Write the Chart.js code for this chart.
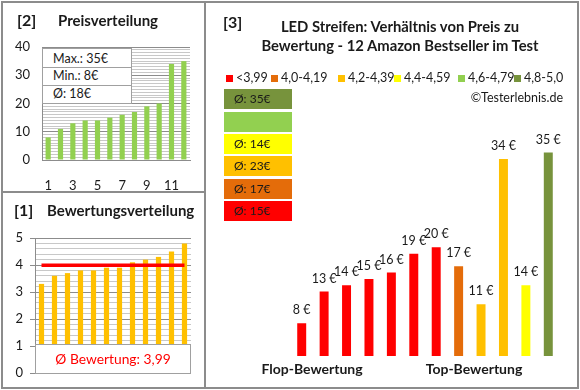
<!DOCTYPE html>
<html>
<head>
<meta charset="utf-8">
<script src="https://cdn.jsdelivr.net/npm/chart.js@4.4.0/dist/chart.umd.min.js"></script>
<style>
  body { margin: 0; width: 580px; height: 390px; background: #fff; position: relative; overflow: hidden;
         font-family: Lato, "Open Sans", sans-serif; color: #1a1a1a; }
  canvas { position: absolute; }
  .line { position: absolute; background: #8c8c8c; }
  .txt { position: absolute; white-space: nowrap; height: 20px; line-height: 20px; }
  .b { font-weight: bold; }
  .box { position: absolute; background: #fff; border: 1px solid #a0a0a0; box-sizing: border-box; }
  .tile { position: absolute; left: 224px; width: 68px; height: 20px; line-height: 20px; font-size: 12px; padding-left: 10px; box-sizing: border-box; }
  .sq { position: absolute; width: 7px; height: 7px; }
</style>
</head>
<body>

<canvas id="preisChart" width="205" height="192" style="left:0;top:0"></canvas>
<canvas id="bewertungChart" width="205" height="196" style="left:0;top:192px"></canvas>
<canvas id="verhaeltnisChart" width="373" height="388" style="left:205px;top:0"></canvas>

<!-- Rahmen -->
<div class="line" style="left:1px;top:1px;width:578px;height:2px"></div>
<div class="line" style="left:1px;top:387px;width:578px;height:2px"></div>
<div class="line" style="left:1px;top:1px;width:2px;height:388px"></div>
<div class="line" style="left:577px;top:1px;width:2px;height:388px"></div>
<div class="line" style="left:204px;top:1px;width:2px;height:388px"></div>
<div class="line" style="left:1px;top:191px;width:205px;height:2px"></div>

<!-- Titel -->
<div class="txt b" style="left:17px;top:10px;font-size:16px">[2]</div>
<div class="txt b" style="left:58px;top:10px;font-size:15px">Preisverteilung</div>
<div class="txt b" style="left:14px;top:200px;font-size:16px">[1]</div>
<div class="txt b" style="left:47px;top:200px;font-size:15px">Bewertungsverteilung</div>
<div class="txt b" style="left:223px;top:12px;font-size:16px">[3]</div>
<div class="txt b" style="left:200px;width:400px;text-align:center;top:16px;font-size:14.8px">LED Streifen: Verhältnis von Preis zu</div>
<div class="txt b" style="left:200px;width:400px;text-align:center;top:35px;font-size:14.8px">Bewertung - 12 Amazon Bestseller im Test</div>
<div class="txt" style="left:400px;width:163px;text-align:right;top:88px;font-size:12.5px">©Testerlebnis.de</div>
<div class="txt b" style="left:212px;width:200px;text-align:center;top:359px;font-size:14px">Flop-Bewertung</div>
<div class="txt b" style="left:374px;width:200px;text-align:center;top:359px;font-size:14px">Top-Bewertung</div>

<!-- Infobox Preis -->
<div class="box" style="left:42px;top:48px;width:90px;height:56px"></div>
<div class="line" style="left:42px;top:67px;width:89px;height:1px;background:#a0a0a0"></div>
<div class="line" style="left:42px;top:85px;width:89px;height:1px;background:#a0a0a0"></div>
<div id="maxTxt" class="txt" style="left:53px;top:49px;font-size:12.5px"></div>
<div id="minTxt" class="txt" style="left:53px;top:66px;font-size:12.5px"></div>
<div id="avgTxt" class="txt" style="left:53px;top:84px;font-size:12.5px"></div>

<!-- Infobox Bewertung -->
<div class="box" style="left:35px;top:344px;width:156px;height:30px"></div>
<div id="ratingTxt" class="txt" style="left:35px;width:156px;text-align:center;top:349px;font-size:13.8px;color:#ff0000"></div>

<div id="legende"></div>
<div id="kacheln"></div>

<script>
// Preise sortiert (Preisverteilung)
const preiseSortiert = [8, 11, 13, 14, 14, 15, 16, 17, 19, 20, 34, 35];
const preisTicks = [0, 10, 20, 30, 40];

// Produkte nach Bewertung sortiert (Flop -> Top)
const bewertungen = [3.3, 3.6, 3.7, 3.8, 3.8, 3.9, 3.9, 4.1, 4.2, 4.3, 4.5, 4.8];
const preise = [8, 13, 14, 15, 16, 19, 20, 17, 11, 34, 14, 35];
const bewertungTicks = [0, 1, 2, 3, 4, 5];

const produktNr = ['1', '2', '3', '4', '5', '6', '7', '8', '9', '10', '11', '12'];

const klassen = ['<3,99', '4,0-4,19', '4,2-4,39', '4,4-4,59', '4,6-4,79', '4,8-5,0'];
const klassenGrenzen = [4.0, 4.2, 4.4, 4.6, 4.8, 5.01];
const klassenFarben = ['#FF0000', '#E46C0A', '#FFC000', '#FFFF00', '#92D050', '#77933C'];

const FONT = 'Lato, "Open Sans", sans-serif';
const GRAU = '#8c8c8c';
const GRAU_HELL = '#c8c8c8';

function klasseVon(b) {
    for (let i = 0; i < klassenGrenzen.length; i++) {
        if (b < klassenGrenzen[i]) return i;
    }
    return klassenGrenzen.length - 1;
}

function mittel(arr) {
    return arr.reduce((s, v) => s + v, 0) / arr.length;
}

function istGanz(v) {
    return Math.abs(v - Math.round(v)) < 1e-6;
}

// Texte der Infoboxen
const preisMittel = mittel(preiseSortiert);
document.getElementById('maxTxt').textContent = 'Max.: ' + Math.max(...preiseSortiert) + '€';
document.getElementById('minTxt').textContent = 'Min.: ' + Math.min(...preiseSortiert) + '€';
document.getElementById('avgTxt').textContent = 'Ø: ' + Math.round(preisMittel) + '€';
const bewMittel = mittel(bewertungen);
document.getElementById('ratingTxt').textContent = 'Ø Bewertung: ' + bewMittel.toFixed(2).replace('.', ',');

// Legende Panel 3
const legendeX = [226, 271, 338, 394, 458, 514];
const legende = document.getElementById('legende');
klassen.forEach((k, i) => {
    const sq = document.createElement('div');
    sq.className = 'sq';
    sq.style.left = legendeX[i] + 'px';
    sq.style.top = '75px';
    sq.style.background = klassenFarben[i];
    legende.appendChild(sq);
    const t = document.createElement('div');
    t.className = 'txt';
    t.style.left = (legendeX[i] + 10) + 'px';
    t.style.top = '68px';
    t.style.fontSize = '12.5px';
    t.textContent = k;
    legende.appendChild(t);
});

// Kacheln mit Durchschnittspreis je Klasse
const kacheln = document.getElementById('kacheln');
for (let i = klassen.length - 1, r = 0; i >= 0; i--, r++) {
    const werte = preise.filter((p, j) => klasseVon(bewertungen[j]) === i);
    const d = document.createElement('div');
    d.className = 'tile';
    d.style.top = (89.4 + r * 22.3) + 'px';
    d.style.background = klassenFarben[i];
    d.textContent = werte.length ? 'Ø: ' + Math.round(mittel(werte)) + '€' : '';
    kacheln.appendChild(d);
}

// [2] Preisverteilung
new Chart(document.getElementById('preisChart'), {
    type: 'bar',
    data: {
        labels: produktNr,
        datasets: [{
            data: preiseSortiert,
            backgroundColor: '#92D050',
            barPercentage: 0.42,
            categoryPercentage: 1
        }]
    },
    options: {
        responsive: false,
        animation: false,
        layout: { padding: { left: 0, top: 47, right: 15, bottom: 0 } },
        plugins: { legend: { display: false }, tooltip: { enabled: false } },
        scales: {
            x: {
                grid: { display: false },
                border: { color: GRAU },
                ticks: {
                    autoSkip: false,
                    maxRotation: 0,
                    padding: 10,
                    color: '#1a1a1a',
                    font: { family: FONT, size: 13 },
                    callback: (v, i) => i % 2 === 0 ? produktNr[i] : ''
                },
                afterFit: s => { s.height = 32; }
            },
            y: {
                min: 0,
                max: 40,
                border: { color: GRAU },
                grid: {
                    drawTicks: false,
                    color: c => preisTicks.includes(c.tick.value) ? GRAU : GRAU_HELL
                },
                ticks: {
                    stepSize: 1,
                    autoSkip: false,
                    padding: 12,
                    color: '#1a1a1a',
                    font: { family: FONT, size: 13 },
                    callback: v => preisTicks.includes(v) ? v : ''
                },
                afterFit: s => { s.width = 42; }
            }
        }
    }
});

// [1] Bewertungsverteilung
new Chart(document.getElementById('bewertungChart'), {
    type: 'bar',
    data: {
        labels: produktNr,
        datasets: [{
            type: 'line',
            data: bewertungen.map(() => bewMittel),
            borderColor: '#FF0000',
            borderWidth: 3.5,
            pointRadius: 0,
            order: 0
        }, {
            data: bewertungen,
            backgroundColor: '#FFC000',
            barPercentage: 0.4,
            categoryPercentage: 1,
            order: 1
        }]
    },
    options: {
        responsive: false,
        animation: false,
        layout: { padding: { left: 0, top: 46, right: 14, bottom: 15 } },
        plugins: { legend: { display: false }, tooltip: { enabled: false } },
        scales: {
            x: { display: false },
            y: {
                min: 0,
                max: 5,
                border: { color: GRAU },
                grid: {
                    tickLength: 5,
                    color: c => istGanz(c.tick.value) ? GRAU : GRAU_HELL,
                    tickColor: c => istGanz(c.tick.value) ? GRAU : 'rgba(0,0,0,0)'
                },
                ticks: {
                    stepSize: 0.2,
                    autoSkip: false,
                    padding: 7,
                    color: '#1a1a1a',
                    font: { family: FONT, size: 13 },
                    callback: v => istGanz(v) && bewertungTicks.includes(Math.round(v)) ? Math.round(v) : ''
                },
                afterFit: s => { s.width = 35; }
            }
        }
    }
});

// [3] Verhaeltnis Preis zu Bewertung
const preisLabels = {
    id: 'preisLabels',
    afterDatasetsDraw(chart) {
        const ctx = chart.ctx;
        ctx.save();
        ctx.font = '12.5px ' + FONT;
        ctx.fillStyle = '#1a1a1a';
        ctx.textAlign = 'center';
        ctx.textBaseline = 'middle';
        chart.getDatasetMeta(0).data.forEach((bar, i) => {
            ctx.fillText(preise[i] + ' €', bar.x, bar.y - 13);
        });
        ctx.restore();
    }
};

new Chart(document.getElementById('verhaeltnisChart'), {
    type: 'bar',
    data: {
        labels: produktNr,
        datasets: [{
            data: preise,
            base: 2.8,
            backgroundColor: bewertungen.map(b => klassenFarben[klasseVon(b)]),
            barPercentage: 0.4,
            categoryPercentage: 1
        }]
    },
    options: {
        responsive: false,
        animation: false,
        layout: { padding: { left: 85.5, top: 121, right: 18.5, bottom: 32 } },
        plugins: { legend: { display: false }, tooltip: { enabled: false } },
        scales: {
            x: { display: false },
            y: { display: false, min: 2.8, max: 40 }
        }
    },
    plugins: [preisLabels]
});
</script>
</body>
</html>
